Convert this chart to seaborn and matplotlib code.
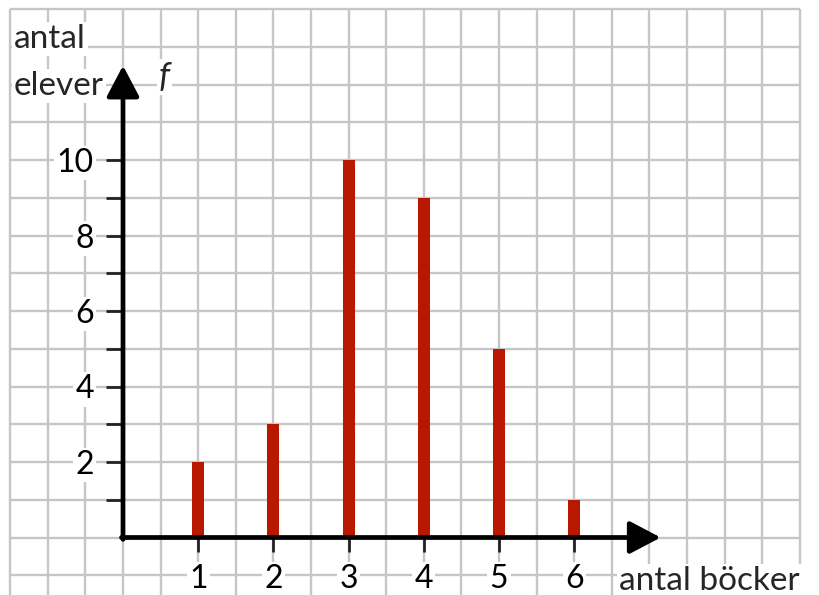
import matplotlib
matplotlib.use("Agg")
import matplotlib.pyplot as plt
import seaborn as sns
import numpy as np
import pandas as pd

# data
books = [1, 2, 3, 4, 5, 6]
students = [2, 3, 10, 9, 5, 1]
x_ticks = [1, 2, 3, 4, 5, 6]
y_major = [2, 4, 6, 8, 10]
y_minor = [1, 3, 5, 7, 9]
x_label = "antal böcker"
y_label_lines = ["antal", "elever"]
f_label = "f"

sns.set_theme(style="white")
plt.rcParams['font.family'] = ['Lato', 'DejaVu Sans']

fig = plt.figure(figsize=(8.19, 5.95), dpi=100)
ax = fig.add_axes([0, 0, 1, 1])

df = pd.DataFrame({"books": books, "students": students})

# grid
gc = "#c6c6c6"
glw = 1.7
for gx in np.arange(-1.5, 9.01, 0.5):
    ax.plot([gx, gx], [-2, 14], color=gc, lw=glw, zorder=0, solid_capstyle="butt")
for gy in np.arange(-1, 14.01, 1):
    ax.plot([-1.5, 9], [gy, gy], color=gc, lw=glw, zorder=0, solid_capstyle="butt")

sns.barplot(data=df, x="books", y="students", native_scale=True, width=0.16,
            color="#b81800", saturation=1, linewidth=0, errorbar=None, ax=ax, zorder=3)

ax.set_xlim(-123 / 75.2, (819 - 123) / 75.2)
ax.set_ylim(-(595 - 537.5) / 37.75, 537.5 / 37.75)

# axes as arrows
for s in ax.spines.values():
    s.set_visible(False)
ax.spines['bottom'].set_position(('data', 0))
ax.spines['left'].set_position(('data', 0))

arrow_kw = dict(arrowstyle="-|>,head_length=0.95,head_width=0.5", lw=3.4,
                color="black", mutation_scale=20, shrinkA=0, shrinkB=0)
ax.annotate("", xy=(7.15, 0), xytext=(-0.02, 0), arrowprops=arrow_kw, zorder=5,
            annotation_clip=False)
ax.annotate("", xy=(0, 12.5), xytext=(0, -0.05), arrowprops=arrow_kw, zorder=5,
            annotation_clip=False)

ax.set_xticks(x_ticks)
ax.set_xticklabels([str(v) for v in x_ticks])
ax.set_yticks(y_major)
ax.set_yticklabels([str(v) for v in y_major])
ax.set_yticks(y_minor, minor=True)
ax.tick_params(axis="x", which="both", direction="out", length=10, width=2,
               color="#222222", pad=9, labelsize=23, labelcolor="black",
               bottom=True)
ax.tick_params(axis="y", which="both", direction="out", length=12, width=2,
               color="#222222", pad=9, labelsize=23, labelcolor="black",
               left=True)
ax.set_xlabel("")
ax.set_ylabel("")
for lab in ax.get_xticklabels() + ax.get_yticklabels():
    lab.set_bbox(dict(facecolor="white", edgecolor="none", pad=1.5))

box = dict(facecolor="white", edgecolor="none", pad=1.5)
ax.text(-1.45, 12.97, y_label_lines[0], fontsize=24, ha="left", va="baseline",
        bbox=box, zorder=6)
ax.text(-1.45, 11.72, y_label_lines[1], fontsize=24, ha="left", va="baseline",
        bbox=box, zorder=6)
ax.text(0.55, 12.2, f_label, fontsize=25, style="italic", ha="center",
        va="center", bbox=box, zorder=6)
ax.text(9.0, -1.39, x_label, fontsize=24, ha="right", va="baseline",
        bbox=box, zorder=6)

fig.savefig("out.png", dpi=100)
